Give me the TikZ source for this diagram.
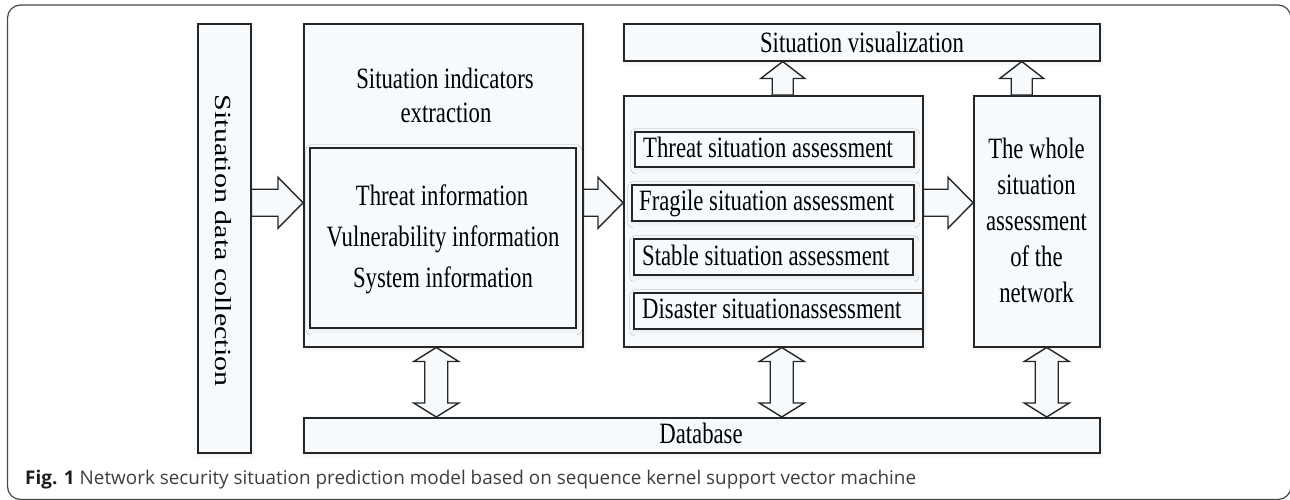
\documentclass[tikz,border=0pt]{standalone}
\usepackage{graphicx}
\usepackage{fontspec}
\setmainfont{Liberation Serif}
\newfontfamily\condensed{Liberation Serif}[FakeStretch=0.77]
\newfontfamily\capfont{Open Sans}
\usetikzlibrary{calc,shadows.blur}

\definecolor{linec}{RGB}{38,38,38}
\definecolor{boxfill}{RGB}{246,250,253}
\definecolor{framec}{RGB}{70,70,70}
\definecolor{capgray}{RGB}{62,62,62}
\definecolor{capdark}{RGB}{30,30,30}

\tikzset{
  box/.style={draw=linec, line width=1.5pt, fill=boxfill, inner sep=0pt,
    anchor=north west,
    blur shadow={shadow xshift=1pt, shadow yshift=-2pt,
                 shadow blur radius=5pt, shadow opacity=9}},
  blockarrow/.style={draw=linec, line width=1.4pt, fill=boxfill, line join=miter},
  lbl/.style={font=\condensed\fontsize{29.5}{34}\selectfont, inner sep=0pt, text=black},
}

% horizontal block arrow: tail at #1, tip at the x of #2
\newcommand\hblock[2]{%
  \path[blockarrow] let \p1=(#1), \p2=(#2) in
    (\x1,\y1+13.5pt) -- (\x2-25pt,\y1+13.5pt) -- (\x2-25pt,\y1+25.5pt) --
    (\x2,\y1) -- (\x2-25pt,\y1-25.5pt) -- (\x2-25pt,\y1-13.5pt) --
    (\x1,\y1-13.5pt) -- cycle;}

% upward block arrow: tail at #1, tip at the height of #2
\newcommand\upblock[2]{%
  \path[blockarrow] let \p1=(#1), \p2=(#2) in
    (\x1-10.5pt,\y1) -- (\x1-10.5pt,\y2-17pt) -- (\x1-22pt,\y2-17pt) --
    (\x1,\y2) -- (\x1+22pt,\y2-17pt) -- (\x1+10.5pt,\y2-17pt) --
    (\x1+10.5pt,\y1) -- cycle;}

% double-headed vertical block arrow: top tip at #1, bottom tip at the height of #2
\newcommand\vdouble[2]{%
  \path[blockarrow] let \p1=(#1), \p2=(#2) in
    (\x1,\y1) -- (\x1+22.5pt,\y1-14pt) -- (\x1+11.5pt,\y1-14pt) --
    (\x1+11.5pt,\y2+14pt) -- (\x1+22.5pt,\y2+14pt) -- (\x1,\y2) --
    (\x1-22.5pt,\y2+14pt) -- (\x1-11.5pt,\y2+14pt) --
    (\x1-11.5pt,\y1-14pt) -- (\x1-22.5pt,\y1-14pt) -- cycle;}

\begin{document}
\begin{tikzpicture}[x=1pt, y=-1pt]
\useasboundingbox (0,0) rectangle (1290,499);

% panel frame
\draw[framec, line width=1.2pt, rounded corners=13pt] (7.5,5) rectangle (1291,499.5);

% boxes
\node[box, minimum width=53pt,  minimum height=429pt] (collect)  at (197,23)  {};
\node[box, minimum width=279pt, minimum height=323pt] (sie)      at (303,23)  {};
\node[box, minimum width=266pt, minimum height=180pt] (info)     at (309,147) {};
\node[box, minimum width=476pt, minimum height=37pt]  (vis)      at (623,23)  {};
\node[box, minimum width=299pt, minimum height=251pt] (assess)   at (623,95)  {};
\node[box, minimum width=279pt, minimum height=35pt]  (threat)   at (634,131) {};
\node[box, minimum width=282pt, minimum height=36pt]  (fragile)  at (631,184) {};
\node[box, minimum width=279pt, minimum height=36pt]  (stable)   at (633,238) {};
\node[box, minimum width=289pt, minimum height=36pt]  (disaster) at (633,292) {};
\node[box, minimum width=126pt, minimum height=251pt] (whole)    at (973,95)  {};
\node[box, minimum width=796pt, minimum height=35pt]  (db)       at (303,417) {};

% texts
\node[rotate=-90, inner sep=0pt, font=\fontsize{30}{34}\selectfont] (collecttxt)
  at ([xshift=-0.5pt,yshift=-2.5pt]collect.center) {\scalebox{1}[0.77]{Situation data collection}};

\node[lbl, anchor=base] (sie1) at (445,88)  {Situation indicators};
\node[lbl, anchor=base] (sie2) at (446,122) {extraction};

\node[lbl, anchor=base] (info1) at (442,205) {Threat information};
\node[lbl, anchor=base] (info2) at (443,246) {Vulnerability information};
\node[lbl, anchor=base] (info3) at (443,287) {System information};

\node[lbl, anchor=base] (vistxt) at (862,52) {Situation visualization};

\node[lbl, anchor=base west] (threattxt)   at (643,157) {Threat situation assessment};
\node[lbl, anchor=base west] (fragiletxt)  at (639,210) {Fragile situation assessment};
\node[lbl, anchor=base west] (stabletxt)   at (642,265) {Stable situation assessment};
\node[lbl, anchor=base west] (disastertxt) at (642,318) {Disaster situationassessment};

\node[lbl, anchor=base] (whole1) at (1036.5,158) {The whole};
\node[lbl, anchor=base] (whole2) at (1036.5,194) {situation};
\node[lbl, anchor=base] (whole3) at (1036.5,230) {assessment};
\node[lbl, anchor=base] (whole4) at (1036.5,266) {of the};
\node[lbl, anchor=base] (whole5) at (1036.5,302) {network};

\node[lbl, anchor=base] (dbtxt) at (701,443) {Database};

% block arrows
\hblock{collect.east |- fragile.center}{sie.west}
\hblock{sie.east |- fragile.center}{assess.west}
\hblock{assess.east |- fragile.center}{whole.west}

\upblock{[xshift=9.5pt]assess.north}{vis.south}
\upblock{[xshift=-15pt]whole.north}{vis.south}

\vdouble{[xshift=-7pt]sie.south}{db.north}
\vdouble{[xshift=8.5pt]assess.south}{db.north}
\vdouble{[xshift=10pt]whole.south}{db.north}

% caption
\node[anchor=base west, inner sep=0pt, text=capgray,
      font=\capfont\fontsize{18.9}{23}\selectfont] (caption) at (25,484)
  {\textcolor{capdark}{\textbf{Fig. 1}} Network security situation prediction model based on sequence kernel support vector machine};
\end{tikzpicture}
\end{document}
